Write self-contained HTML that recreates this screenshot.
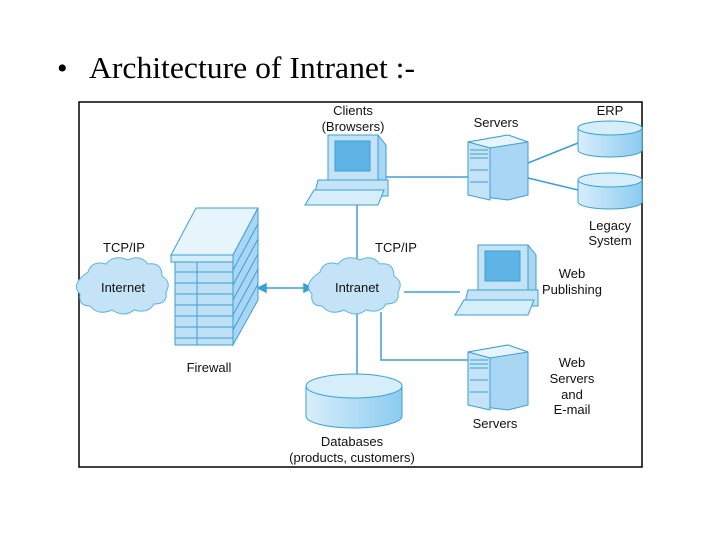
<!DOCTYPE html>
<html><head><meta charset="utf-8"><style>
html,body{margin:0;padding:0;background:#fff;width:720px;height:540px;overflow:hidden}
svg{display:block}
.s{font-family:"Liberation Sans",sans-serif;font-size:13px;fill:#111;text-anchor:middle}
</style></head><body>
<svg width="720" height="540" viewBox="0 0 720 540">
<defs>
<linearGradient id="cyl" x1="0" x2="1"><stop offset="0" stop-color="#d8eefb"/><stop offset="1" stop-color="#8ccbf0"/></linearGradient>
</defs>
<text x="57" y="78" font-family="Liberation Serif,serif" font-size="30" fill="#000">•</text>
<text x="89" y="78" font-family="Liberation Serif,serif" font-size="31" fill="#000" textLength="326" lengthAdjust="spacingAndGlyphs">Architecture of Intranet :-</text>
<rect x="79" y="102" width="563" height="365" fill="#fff" stroke="#000" stroke-width="1.5"/>

<g stroke="#3aa0d5" stroke-width="1.5" fill="none">
<line x1="385" y1="177" x2="468" y2="177"/>
<line x1="357" y1="205" x2="357" y2="264"/>
<line x1="528" y1="163" x2="578" y2="143"/>
<line x1="528" y1="178" x2="578" y2="190"/>
<line x1="404" y1="292" x2="460" y2="292"/>
<polyline points="381,312 381,360 468,360"/>
<line x1="357" y1="312" x2="357" y2="376"/>
<line x1="264" y1="288" x2="306" y2="288"/>
<path d="M258,288 l8,-4 v8z M312,288 l-8,-4 v8z" fill="#3aa0d5"/>
</g>

<g fill="#c4e3f7" stroke="#5bb3e0" stroke-width="1">
<path d="M88,272 q4,-12 18,-8 q8,-10 22,-4 q12,-6 20,4 q14,-2 14,12 q10,6 4,16 q2,12 -12,12 q-6,10 -20,6 q-10,8 -22,0 q-14,6 -22,-4 q-12,0 -10,-12 q-10,-10 8,-22z"/>
<path d="M320,272 q4,-12 18,-8 q8,-10 22,-4 q12,-6 20,4 q14,-2 14,12 q10,6 4,16 q2,12 -12,12 q-6,10 -20,6 q-10,8 -22,0 q-14,6 -22,-4 q-12,0 -10,-12 q-10,-10 8,-22z"/>
</g>
<text class="s" x="123" y="292" font-size="14">Internet</text>
<text class="s" x="357" y="292" font-size="14">Intranet</text>

<g stroke="#3aa0d5" stroke-width="1">
<polygon points="171,255 196,208 258,208 233,255" fill="#e6f4fc"/>
<polygon points="233,255 258,208 258,300 233,345" fill="#a9d6f3"/>
<rect x="175" y="262" width="22" height="83" fill="#bfe0f5"/>
<rect x="171" y="255" width="62" height="7" fill="#d6edfa"/>
<rect x="197" y="262" width="36" height="83" fill="#bfe0f5"/>
<path d="M175,272h58M175,283h58M175,294h58M175,305h58M175,316h58M175,327h58M175,338h58" fill="none"/>
<path d="M233,270l25,-46M233,285l25,-46M233,300l25,-46M233,315l25,-46M233,330l25,-46" fill="none"/>
</g>

<g id="pc" stroke="#3aa0d5" stroke-width="1">
<polygon points="328,135 378,135 386,145 386,185 336,185 328,178" fill="#a9d6f3"/>
<rect x="328" y="135" width="50" height="45" fill="#c4e3f7"/>
<rect x="335" y="141" width="35" height="30" fill="#5fb4e6"/>
<polygon points="318,180 388,180 388,196 314,196" fill="#c4e3f7"/>
<polygon points="314,190 384,190 378,205 305,205" fill="#d6edfa"/>
</g>
<use href="#pc" transform="translate(150,110)"/>

<g id="sv" stroke="#3aa0d5" stroke-width="1">
<polygon points="468,142 508,135 528,142 528,195 508,200 468,195" fill="#a9d6f3"/>
<polygon points="468,142 508,135 528,142 490,148" fill="#e6f4fc"/>
<polygon points="468,142 490,148 490,200 468,195" fill="#c4e3f7"/>
<path d="M470,150h18M470,154h18M470,158h18M470,170h18M470,182h18" fill="none"/>
</g>
<use href="#sv" transform="translate(0,210)"/>

<g stroke="#3aa0d5" stroke-width="1" fill="url(#cyl)">
<path d="M578,128 v22 a32,7 0 0 0 64,0 v-22"/><ellipse cx="610" cy="128" rx="32" ry="7" fill="#d6edfa"/>
<path d="M578,180 v22 a32,7 0 0 0 64,0 v-22"/><ellipse cx="610" cy="180" rx="32" ry="7" fill="#d6edfa"/>
<path d="M306,386 v30 a48,12 0 0 0 96,0 v-30"/><ellipse cx="354" cy="386" rx="48" ry="12" fill="#d6edfa"/>
</g>

<text class="s" x="353" y="115">Clients</text>
<text class="s" x="353" y="131">(Browsers)</text>
<text class="s" x="496" y="127">Servers</text>
<text class="s" x="610" y="115">ERP</text>
<text class="s" x="610" y="230">Legacy</text>
<text class="s" x="610" y="245">System</text>
<text class="s" x="124" y="252">TCP/IP</text>
<text class="s" x="396" y="252">TCP/IP</text>
<text class="s" x="209" y="372">Firewall</text>
<text class="s" x="572" y="278">Web</text>
<text class="s" x="572" y="294">Publishing</text>
<text class="s" x="572" y="367">Web</text>
<text class="s" x="572" y="383">Servers</text>
<text class="s" x="572" y="399">and</text>
<text class="s" x="572" y="414">E-mail</text>
<text class="s" x="495" y="428">Servers</text>
<text class="s" x="352" y="446">Databases</text>
<text class="s" x="352" y="462">(products, customers)</text>
</svg>
</body></html>
